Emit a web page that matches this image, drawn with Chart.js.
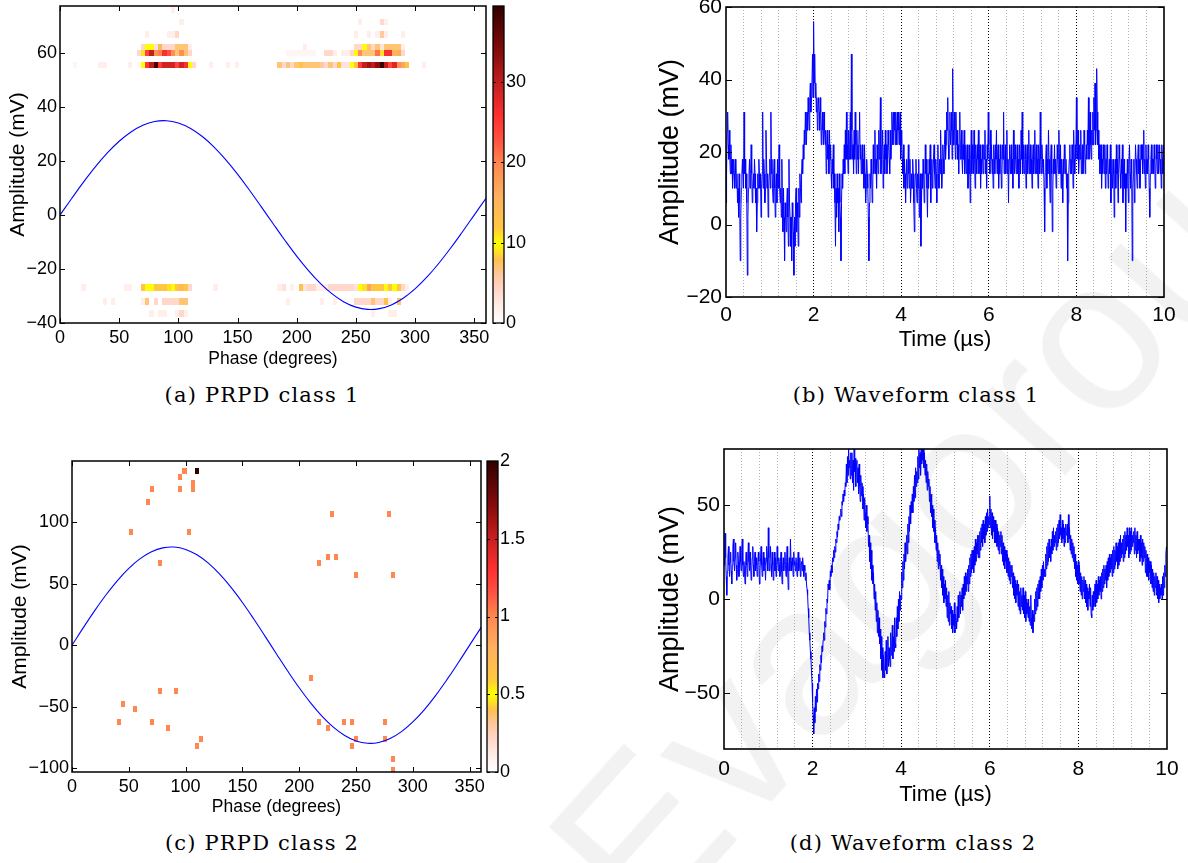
<!DOCTYPE html>
<html>
<head>
<meta charset="utf-8">
<script src="https://cdn.jsdelivr.net/npm/chart.js@4.4.1/dist/chart.umd.min.js"></script>
<style>
  body { margin: 0; background: #fff; }
  #page { position: relative; width: 1188px; height: 863px; overflow: hidden; background: #fff; }
  canvas { position: absolute; }
  .caption { position: absolute; width: 400px; text-align: center; font-family: "DejaVu Serif", serif; font-size: 21px; letter-spacing: 1.2px; line-height: 24px; color: #000; }
  #mark { position: absolute; left: 400px; top: 440px; width: 1000px; text-align: center; font-family: "Liberation Sans", sans-serif; font-size: 215px; line-height: 215px; color: rgba(0, 0, 0, 0.05); transform: rotate(-48deg); pointer-events: none; }
</style>
</head>
<body>
<div id="page">
  <canvas id="prpd1" width="490" height="372" style="left:0;top:0"></canvas>
  <canvas id="cbar1" width="50" height="372" style="left:488px;top:0"></canvas>
  <canvas id="wave1" width="548" height="360" style="left:640px;top:0"></canvas>
  <canvas id="prpd2" width="490" height="370" style="left:0;top:450px"></canvas>
  <canvas id="cbar2" width="50" height="370" style="left:482px;top:450px"></canvas>
  <canvas id="wave2" width="548" height="370" style="left:640px;top:440px"></canvas>
  <div class="caption" style="left:62px;top:383px">(a) PRPD class 1</div>
  <div class="caption" style="left:716px;top:383px">(b) Waveform class 1</div>
  <div class="caption" style="left:62px;top:831px">(c) PRPD class 2</div>
  <div class="caption" style="left:713px;top:831px">(d) Waveform class 2</div>
  <div id="mark">Evagorou</div>
</div>
<script>
// ---- data ----
const phaseBin = 3.6;                       // degrees per PRPD column
const phaseTicks = [0, 50, 100, 150, 200, 250, 300, 350];
const prpd1Ticks = [-40, -20, 0, 20, 40, 60];
const prpd2Ticks = [-100, -50, 0, 50, 100];
const cbar1Ticks = [0, 10, 20, 30];
const cbar2Ticks = [0, 0.5, 1, 1.5, 2];

// reference voltage, sampled every 10 degrees
const sinePhase = [0, 10, 20, 30, 40, 50, 60, 70, 80, 90, 100, 110, 120, 130, 140, 150, 160, 170, 180,
  190, 200, 210, 220, 230, 240, 250, 260, 270, 280, 290, 300, 310, 320, 330, 340, 350, 360];
const sine1Amp = [0, 6.25, 12.30, 17.95, 23.03, 27.36, 30.82, 33.29, 34.68, 34.96, 34.12, 32.19, 29.21, 25.30,
  20.57, 15.19, 9.31, 3.14, -3.14, -9.31, -15.19, -20.57, -25.30, -29.21, -32.19, -34.12, -34.96, -34.68,
  -33.29, -30.82, -27.36, -23.03, -17.95, -12.30, -6.25, 0, 6.25];
const sine2Amp = [0, 14.29, 28.11, 41.03, 52.64, 62.54, 70.45, 76.09, 79.27, 79.91, 77.99, 73.57, 66.77, 57.82,
  47.02, 34.71, 21.28, 7.17, -7.17, -21.28, -34.71, -47.02, -57.82, -66.77, -73.57, -77.99, -79.91, -79.27,
  -76.09, -70.45, -62.54, -52.64, -41.03, -28.11, -14.29, 0, 14.29];

// class 1 PRPD: amplitude rows (mV) and cells [phase column, row, count]
const prpd1Rows = [76.2, 71.6, 67.0, 62.4, 60.0, 55.6, -26.9, -32.0, -36.5];
const prpd1Cells = [
  [26,0,2],
  [28,1,2],[70,1,2],[75,1,4],[76,1,2],
  [20,2,2],[25,2,2],[26,2,2],[27,2,4],[69,2,2],[72,2,2],[74,2,2],[75,2,6],[76,2,2],[80,2,2],
  [19,3,4],[20,3,10],[21,3,10],[22,3,3],[23,3,15],[24,3,4],[25,3,4],[26,3,4],[27,3,7],[28,3,7],[29,3,7],[30,3,2],
  [57,3,2],[69,3,4],[70,3,4],[71,3,10],[72,3,7],[73,3,4],[74,3,7],[75,3,3],[76,3,7],[77,3,7],[78,3,7],[79,3,7],[80,3,2],
  [18,4,4],[19,4,9],[20,4,24],[21,4,30],[22,4,19],[23,4,20],[24,4,26],[25,4,23],[26,4,19],[27,4,7],[28,4,19],[29,4,7],[30,4,4],
  [53,4,1],[54,4,1],[55,4,1],[56,4,1],[57,4,1],[58,4,1],[59,4,1],[62,4,4],[63,4,4],[64,4,2],[66,4,2],[67,4,2],[68,4,4],
  [69,4,10],[70,4,19],[71,4,7],[72,4,7],[73,4,7],[74,4,21],[75,4,9],[76,4,26],[77,4,26],[78,4,15],[79,4,16],[80,4,4],
  [3,5,1],[9,5,2],[10,5,2],[16,5,2],[18,5,1],[19,5,10],[20,5,25],[21,5,30],[22,5,38],[23,5,25],[24,5,29],[25,5,29],
  [26,5,29],[27,5,24],[28,5,29],[29,5,26],[30,5,10],[31,5,4],[35,5,2],[39,5,2],[41,5,2],
  [51,5,7],[52,5,4],[53,5,7],[54,5,4],[55,5,7],[56,5,8],[57,5,7],[58,5,7],[59,5,7],[60,5,7],[61,5,6],[62,5,4],[63,5,7],
  [64,5,4],[65,5,8],[66,5,3],[67,5,3],[68,5,10],[69,5,12],[70,5,25],[71,5,30],[72,5,32],[73,5,30],[74,5,33],[75,5,39],
  [76,5,30],[77,5,24],[78,5,28],[79,5,19],[80,5,17],[81,5,8],[85,5,2],
  [5,6,2],[15,6,2],[16,6,2],[19,6,12],[20,6,10],[21,6,10],[22,6,12],[23,6,12],[24,6,12],[25,6,11],[26,6,10],[27,6,12],
  [28,6,14],[29,6,12],[30,6,4],[36,6,2],
  [51,6,2],[52,6,3],[54,6,2],[56,6,8],[57,6,3],[58,6,4],[59,6,4],[60,6,2],[61,6,2],[62,6,2],[63,6,4],[64,6,4],[65,6,4],
  [66,6,4],[67,6,4],[68,6,4],[69,6,3],[70,6,10],[71,6,9],[72,6,17],[73,6,12],[74,6,12],[75,6,12],[76,6,10],[77,6,12],
  [78,6,10],[79,6,12],[80,6,4],[81,6,2],
  [10,7,2],[12,7,2],[19,7,2],[20,7,7],[22,7,4],[24,7,4],[25,7,4],[26,7,4],[27,7,4],[28,7,7],[29,7,7],
  [53,7,2],[61,7,2],[64,7,2],[69,7,4],[70,7,4],[71,7,4],[72,7,4],[73,7,7],[74,7,4],[75,7,4],[76,7,8],[77,7,2],[79,7,7],
  [21,8,2],[23,8,2],[24,8,2],[27,8,2],[28,8,4],[29,8,2],[73,8,2],[77,8,2],[78,8,2]
];

// class 2 PRPD: [phase column, amplitude (mV), count]
const prpd2Cells = [
  [27,141.7,1],[30,141.7,2],[26,137.1,1],[26,126.8,1],[29,131.7,1],[29,126.8,1],[19,126.8,1],[18,116.8,1],
  [14,92.1,1],[28,92.1,1],[21,66.9,1],[21,-37.1,1],[25,-37.1,1],[12,-47.7,1],[15,-52.3,1],[11,-62.3,1],
  [19,-62.3,1],[23,-67.2,1],[31,-76.7,1],[30,-82.1,1],
  [63,106.8,1],[77,106.8,1],[60,66.9,1],[62,71.8,1],[64,71.8,1],[69,57.2,1],[78,57.2,1],[58,-27.1,1],
  [60,-62.3,1],[62,-67.2,1],[66,-62.3,1],[68,-62.3,1],[69,-76.7,1],[68,-82.1,1],[76,-62.3,1],[76,-76.7,1],
  [78,-92.4,1],[78,-102,1]
];

// waveforms, one sample every 12.5 ns (one line = 0.125 us)
const sampleStep = 0.0125;
const timeGrid = [0, 0.4, 0.8, 1.2, 1.6, 2, 2.4, 2.8, 3.2, 3.6, 4, 4.4, 4.8, 5.2, 5.6, 6, 6.4, 6.8, 7.2, 7.6, 8,
  8.4, 8.8, 9.2, 9.6, 10];
const timeLabels = [0, 2, 4, 6, 8, 10];
const wave1Ticks = [-20, 0, 20, 40, 60];
const wave2Ticks = [-50, 0, 50];
const wave1Amp = [
  6, 14, 26, 31, 22, 18, 26, 18, 14, 22,
  14, 18, 10, 14, 18, 14, 10, 18, 14, 10,
  14, 6, 10, 2, 14, 6, -10, 2, 10, 14,
  18, 14, 10, 31, 14, 18, 10, 14, 6, -14,
  2, 10, 14, 18, 10, 14, 22, 14, 6, 10,
  14, 10, 18, 14, 6, 10, -2, 6, 14, 10,
  18, 14, 10, 14, 2, 10, 14, 31, 10, 18,
  14, 6, 10, 26, 18, 10, 14, 2, 10, 14,
  18, 10, 31, 14, 18, 10, 6, 14, 18, 10,
  2, 10, 14, 6, 18, 10, 14, 22, 10, 6,
  10, 2, 18, 6, -2, 10, 2, -10, 6, 2,
  -2, 6, 10, 2, -6, 18, 6, 2, -6, 2,
  -10, 6, 2, -2, -14, 2, -6, 6, 10, -2,
  6, 2, -6, 10, 2, 14, 10, 6, 14, 18,
  14, 22, 18, 26, 22, 31, 26, 22, 31, 26,
  35, 31, 26, 35, 39, 31, 35, 39, 47, 35,
  56, 39, 47, 35, 39, 31, 35, 26, 31, 35,
  31, 26, 35, 31, 22, 26, 31, 26, 22, 31,
  26, 22, 26, 14, 22, 26, 18, 22, 14, 26,
  18, 22, 14, 10, 18, 14, 22, 10, 14, 6,
  -6, 10, 2, 14, 6, 10, -2, 14, 6, 2,
  -10, 6, 14, 10, 18, 14, 22, 14, 26, 18,
  31, 18, 22, 14, 26, 18, 22, 31, 18, 47,
  26, 18, 22, 14, 26, 18, 31, 22, 14, 26,
  18, 22, 14, 26, 31, 18, 22, 14, 18, 22,
  14, 18, 10, 22, 14, 6, 10, 18, 14, 10,
  2, -10, 6, 14, 10, 18, 14, 6, 10, 22,
  14, 18, 26, 14, 18, 10, 22, 18, 14, 26,
  18, 22, 35, 14, 18, 22, 26, 10, 18, 22,
  14, 26, 18, 22, 14, 18, 26, 22, 18, 14,
  26, 18, 22, 31, 26, 22, 31, 26, 31, 22,
  31, 26, 22, 31, 26, 31, 22, 26, 31, 18,
  26, 22, 18, 14, 22, 10, 18, 14, 6, 14,
  18, 10, 14, 22, 14, 10, 18, 6, 10, 14,
  10, 18, 14, 6, -2, 10, 14, 18, 10, 6,
  14, 10, 18, 2, 10, 14, -6, 6, 14, 10,
  18, 14, 6, 10, 22, 14, 18, 10, 2, 14,
  10, 18, 14, 22, 6, 14, 18, 10, 14, 18,
  22, 14, 10, 18, 14, 6, 18, 22, 14, 10,
  18, 14, 26, 18, 10, 14, 22, 18, 14, 22,
  26, 18, 22, 31, 26, 35, 22, 18, 26, 31,
  22, 26, 31, 18, 43, 26, 22, 31, 26, 18,
  31, 22, 26, 18, 22, 14, 26, 31, 18, 22,
  26, 18, 14, 22, 18, 26, 14, 18, 22, 14,
  18, 22, 10, 18, 14, 22, 6, 18, 26, 14,
  22, 18, 14, 26, 18, 10, 22, 18, 14, 22,
  18, 26, 14, 18, 22, 10, 18, 14, 22, 18,
  14, 22, 18, 26, 14, 18, 10, 22, 18, 31,
  22, 18, 14, 26, 18, 22, 14, 18, 10, 22,
  18, 14, 22, 18, 26, 14, 18, 22, 10, 18,
  14, 22, 18, 10, 14, 22, 18, 31, 14, 18,
  22, 14, 18, 26, 14, 18, 6, 18, 22, 14,
  18, 22, 14, 18, 10, 26, 18, 14, 22, 18,
  14, 18, 22, 14, 18, 10, 22, 18, 14, 26,
  18, 31, 14, 22, 18, 14, 18, 22, 10, 18,
  22, 14, 18, 26, 14, 18, 22, 14, 18, 10,
  18, 22, 14, 18, 26, 14, 18, 22, 14, 18,
  10, 22, 18, 14, 31, 18, 14, 22, 18, 14,
  18, 10, -2, 14, 18, 22, 10, 18, 14, 26,
  18, 14, 6, 18, 22, 14, -2, 10, 18, 14,
  22, 14, 18, 10, 14, 22, 18, 14, 26, 18,
  14, 22, 10, 18, 14, 6, 18, 14, 22, 18,
  14, 18, 10, 14, -10, 6, 14, 18, 22, 14,
  18, 14, 22, 18, 10, 26, 18, 14, 22, 18,
  35, 22, 18, 26, 14, 18, 22, 18, 26, 14,
  18, 22, 14, 18, 26, 22, 14, 18, 22, 18,
  26, 22, 35, 18, 26, 31, 22, 18, 26, 22,
  31, 22, 35, 26, 39, 22, 26, 43, 31, 22,
  26, 18, 22, 14, 18, 22, 10, 18, 14, 22,
  18, 14, 22, 10, 18, 14, 22, 18, 10, 14,
  18, 14, 22, 6, 14, 18, 10, 14, 18, 2,
  14, 18, 10, 22, 14, 18, 6, 14, 22, 18,
  14, 10, 18, 14, 22, 6, 14, 18, 10, 14,
  -2, 14, 10, 18, 14, 6, 18, 22, 14, 10,
  18, 14, -10, 10, 14, 18, 6, 14, 22, 18,
  14, 10, 18, 22, 14, 18, 10, 14, 22, 18,
  22, 14, 18, 26, 14, 18, 10, 22, 14, 18,
  14, 22, 18, 10, 2, 14, 18, 22, 14, 18,
  18, 14, 22, 18, 10, 14, 22, 18, 14, 22,
  14, 18, 22, 14, 18, 10, 22, 18, 14, 22
];
const wave2Amp = [
  18, 25, 35, 22, 12, 2, 15, 22, 28, 18,
  12, 20, 25, 15, 8, 18, 28, 32, 20, 15,
  22, 30, 18, 10, 15, 25, 20, 12, 18, 28,
  20, 15, 25, 32, 18, 12, 20, 15, 8, 18,
  25, 18, 12, 22, 30, 20, 15, 25, 18, 10,
  15, 22, 28, 18, 12, 20, 25, 15, 22, 18,
  12, 18, 25, 20, 8, 15, 22, 28, 18, 12,
  20, 25, 15, 22, 18, 10, 20, 28, 22, 15,
  38, 22, 15, 20, 28, 18, 12, 25, 18, 10,
  18, 25, 15, 22, 12, 18, 28, 20, 15, 22,
  18, 12, 20, 25, 15, 8, 18, 22, 15, 20,
  25, 18, 12, 20, 28, 15, 5, 18, 22, 15,
  32, 20, 15, 22, 18, 12, 25, 18, 20, 15,
  22, 18, 12, 20, 25, 15, 18, 22, 12, 18,
  20, 15, 22, 18, 12, 18, 15, 10, 14, 8,
  5, 2, -5, -10, -18, -22, -28, -32, -38, -45,
  -55, -62, -72, -58, -66, -52, -60, -48, -55, -45,
  -48, -40, -44, -35, -38, -30, -34, -25, -28, -22,
  -18, -22, -12, -15, -5, -8, 0, -2, 8, 5,
  10, 5, 15, 12, 18, 14, 22, 20, 26, 22,
  28, 25, 32, 30, 36, 33, 40, 37, 44, 42,
  45, 48, 44, 52, 50, 56, 52, 58, 55, 62,
  60, 72, 62, 76, 66, 80, 70, 74, 64, 78,
  66, 78, 62, 74, 58, 80, 68, 75, 60, 72,
  74, 62, 70, 56, 72, 60, 52, 66, 55, 62,
  60, 48, 56, 42, 54, 46, 38, 50, 36, 44,
  40, 28, 34, 20, 30, 16, 26, 10, 18, 8,
  14, 0, 8, -6, 4, -12, -2, -18, -6, -20,
  -10, -24, -16, -32, -20, -38, -26, -42, -30, -40,
  -42, -28, -38, -22, -40, -30, -20, -36, -26, -32,
  -36, -18, -30, -24, -14, -32, -20, -28, -10, -24,
  -26, -10, -20, -4, -16, 0, -12, 4, -6, 2,
  0, 14, 6, 20, 10, 24, 16, 30, 20, 26,
  34, 24, 40, 30, 44, 36, 50, 40, 52, 46,
  56, 46, 60, 52, 66, 54, 70, 60, 68, 62,
  76, 64, 80, 70, 78, 66, 80, 72, 80, 74,
  80, 70, 78, 66, 74, 62, 72, 58, 68, 60,
  64, 52, 60, 46, 56, 44, 50, 38, 48, 36,
  42, 30, 38, 26, 34, 20, 30, 16, 26, 18,
  24, 10, 18, 6, 16, 2, 12, -2, 8, 0,
  10, -4, 6, -10, 2, -12, 4, -14, -2, -8,
  -4, -16, -6, -18, -8, -14, -2, -18, -8, -12,
  -16, -4, -12, 2, -10, -2, 4, -8, 2, -4,
  6, -6, 8, 0, 12, 2, 14, 4, 12, 8,
  16, 4, 18, 8, 22, 12, 24, 14, 26, 16,
  26, 14, 28, 18, 32, 20, 30, 24, 34, 22,
  34, 22, 36, 26, 38, 30, 40, 28, 42, 32,
  40, 30, 44, 34, 46, 36, 48, 38, 44, 40,
  55, 38, 48, 34, 46, 32, 44, 36, 42, 30,
  42, 30, 40, 28, 38, 26, 36, 24, 34, 28,
  36, 24, 34, 20, 30, 18, 28, 16, 26, 20,
  26, 14, 24, 12, 22, 10, 20, 8, 18, 12,
  18, 6, 14, 2, 12, 0, 10, -2, 8, 2,
  10, -4, 8, -6, 4, -8, 6, -4, 2, -6,
  6, -8, 2, -10, 4, -12, 0, -8, -2, -10,
  0, -12, -4, -14, 2, -10, -16, -6, -18, -8,
  -12, 0, -8, 4, -6, 6, -4, 8, 0, 10,
  0, 12, 4, 16, 6, 18, 10, 20, 12, 16,
  12, 24, 16, 28, 18, 30, 20, 32, 22, 28,
  20, 32, 24, 36, 26, 38, 28, 34, 30, 36,
  26, 38, 28, 40, 30, 42, 32, 45, 34, 38,
  30, 42, 32, 40, 28, 38, 30, 40, 34, 36,
  40, 30, 45, 32, 38, 26, 34, 24, 32, 22,
  30, 20, 28, 16, 24, 12, 20, 10, 18, 8,
  20, 8, 18, 4, 14, 2, 12, 0, 10, 4,
  12, 0, 10, -2, 8, -4, 6, -6, 4, 0,
  8, -4, 6, -8, -10, 2, -6, 4, -4, 2,
  8, -4, 10, -2, 8, 0, 12, 2, 10, 4,
  12, 0, 14, 4, 16, 6, 18, 8, 16, 10,
  18, 6, 20, 10, 22, 12, 24, 14, 22, 16,
  24, 12, 26, 14, 28, 16, 26, 18, 30, 20,
  28, 16, 30, 18, 32, 20, 34, 22, 30, 24,
  32, 20, 34, 22, 36, 24, 34, 26, 38, 28,
  34, 22, 38, 24, 36, 26, 38, 28, 34, 30,
  36, 24, 38, 26, 34, 22, 36, 24, 32, 26,
  32, 20, 34, 22, 30, 18, 32, 20, 30, 22,
  28, 14, 26, 12, 24, 12, 22, 10, 20, 14,
  20, 8, 18, 6, 16, 4, 14, 2, 12, 6,
  14, 2, 12, 0, 10, -2, 8, 0, 6, 2,
  8, 0, 12, 2, 14, 6, 18, 12, 24, 28
];

// ---- styling ----
const SANS = '"Liberation Sans", Arial, sans-serif';
const BLUE = '#0000ff';
Chart.defaults.color = '#000';
Chart.defaults.font.family = SANS;

// tick text with a proper minus sign
const tickText = v => String(v).replace('-', '\u2212');

// white -> pink -> orange -> yellow -> orange -> red -> black
const cmapStops = [
  [0.00, [255, 255, 255]],
  [0.05, [255, 238, 234]],
  [0.10, [255, 216, 204]],
  [0.15, [255, 200, 160]],
  [0.20, [255, 192, 80]],
  [0.25, [255, 255, 0]],
  [0.30, [255, 200, 64]],
  [0.40, [255, 176, 96]],
  [0.50, [255, 136, 80]],
  [0.58, [255, 80, 64]],
  [0.65, [255, 48, 48]],
  [0.75, [200, 32, 32]],
  [0.85, [138, 12, 12]],
  [1.00, [48, 0, 0]]
];

function colormap(t) {
  t = Math.max(0, Math.min(1, t));
  for (let i = 1; i < cmapStops.length; i++) {
    const [t1, c1] = cmapStops[i];
    if (t <= t1) {
      const [t0, c0] = cmapStops[i - 1];
      const f = (t - t0) / (t1 - t0);
      return 'rgb(' + c0.map((v, j) => Math.round(v + (c1[j] - v) * f)).join(',') + ')';
    }
  }
  return 'rgb(48,0,0)';
}

// box around the plot plus inward tick marks on every side
const framePlugin = {
  id: 'frame',
  afterDraw(chart, args, opts) {
    const { ctx, chartArea: a, scales } = chart;
    const len = opts.tickLength || 5;
    ctx.save();
    ctx.strokeStyle = '#000';
    ctx.lineWidth = 1;
    ctx.beginPath();
    if (opts.xTicks) {
      for (const t of scales.x.ticks) {
        const px = Math.round(scales.x.getPixelForValue(t.value)) + 0.5;
        ctx.moveTo(px, a.bottom); ctx.lineTo(px, a.bottom - len);
        ctx.moveTo(px, a.top); ctx.lineTo(px, a.top + len);
      }
    }
    if (opts.yTicks) {
      for (const t of scales.y.ticks) {
        const py = Math.round(scales.y.getPixelForValue(t.value)) + 0.5;
        ctx.moveTo(a.left, py); ctx.lineTo(a.left + len, py);
        ctx.moveTo(a.right, py); ctx.lineTo(a.right - len, py);
      }
    }
    ctx.stroke();
    ctx.lineWidth = opts.lineWidth || 1.5;
    ctx.strokeRect(a.left, a.top, a.right - a.left, a.bottom - a.top);
    ctx.restore();
  }
};

// PRPD cells painted under the reference sine
function heatmapPlugin(cells, ampOf, cellHeight, cmax) {
  return {
    id: 'heatmap',
    beforeDatasetsDraw(chart) {
      const { ctx, chartArea: a, scales: { x, y } } = chart;
      ctx.save();
      ctx.beginPath();
      ctx.rect(a.left, a.top, a.right - a.left, a.bottom - a.top);
      ctx.clip();
      for (const [col, key, count] of cells) {
        const amp = ampOf(key);
        const x0 = Math.round(x.getPixelForValue(col * phaseBin));
        const x1 = Math.round(x.getPixelForValue((col + 1) * phaseBin));
        const y0 = Math.round(y.getPixelForValue(amp + cellHeight / 2));
        const y1 = Math.round(y.getPixelForValue(amp - cellHeight / 2));
        ctx.fillStyle = colormap(count / cmax);
        ctx.fillRect(x0, y0, x1 - x0, y1 - y0);
      }
      ctx.restore();
    }
  };
}

function setTicks(values) {
  return axis => { axis.ticks = values.map(v => ({ value: v })); };
}

// fixed axis sizes, no extra room for labels hanging past the plot edges
function fixWidth(w) {
  return s => { s.width = w; s.paddingTop = 0; s.paddingBottom = 0; };
}
function fixHeight(h) {
  return s => { s.height = h; s.paddingLeft = 0; s.paddingRight = 0; };
}

function prpdChart(id, o) {
  return new Chart(document.getElementById(id), {
    type: 'line',
    data: {
      datasets: [{
        data: sinePhase.map((p, i) => ({ x: p, y: o.sine[i] })),
        borderColor: BLUE,
        borderWidth: 1.1,
        pointRadius: 0,
        tension: 0.4
      }]
    },
    options: {
      responsive: false,
      animation: false,
      layout: { padding: { top: o.top, right: o.right, left: 0, bottom: 0 } },
      plugins: {
        legend: { display: false },
        tooltip: { enabled: false },
        frame: { xTicks: true, yTicks: true, tickLength: 5, lineWidth: 1.5 }
      },
      scales: {
        x: {
          type: 'linear', min: 0, max: 360,
          afterBuildTicks: setTicks(phaseTicks),
          afterFit: fixHeight(o.xHeight),
          grid: { display: false, drawTicks: false },
          border: { display: false },
          ticks: { autoSkip: false, maxRotation: 0, padding: 4, font: { size: 18 }, callback: tickText },
          title: { display: true, text: 'Phase (degrees)', font: { size: 17.5 }, padding: { top: 0, bottom: 2 } }
        },
        y: {
          min: o.ymin, max: o.ymax,
          afterBuildTicks: setTicks(o.yTicks),
          afterFit: fixWidth(o.yWidth),
          grid: { display: false, drawTicks: false },
          border: { display: false },
          ticks: { padding: 3, font: { size: 18 }, callback: tickText },
          title: { display: true, text: 'Amplitude (mV)', font: { size: 21 }, padding: { top: o.titlePad, bottom: 0 } }
        }
      }
    },
    plugins: [o.heatmap, framePlugin]
  });
}

function colorbarChart(id, cmax, ticks, top, bottom) {
  return new Chart(document.getElementById(id), {
    type: 'bar',
    data: {
      labels: [''],
      datasets: [{
        data: [[0, cmax]],
        barPercentage: 1,
        categoryPercentage: 1,
        borderWidth: 0,
        backgroundColor: c => {
          const area = c.chart.chartArea;
          if (!area) return '#fff';
          const g = c.chart.ctx.createLinearGradient(0, area.bottom, 0, area.top);
          cmapStops.forEach(([t, rgb]) => g.addColorStop(t, 'rgb(' + rgb.join(',') + ')'));
          return g;
        }
      }]
    },
    options: {
      responsive: false,
      animation: false,
      layout: { padding: { left: 5, top, bottom, right: 0 } },
      plugins: {
        legend: { display: false },
        tooltip: { enabled: false },
        frame: { yTicks: true, tickLength: 3, lineWidth: 1.3 }
      },
      scales: {
        x: { display: false },
        y: {
          position: 'right', min: 0, max: cmax,
          afterBuildTicks: setTicks(ticks),
          afterFit: fixWidth(34),
          grid: { display: false, drawTicks: false },
          border: { display: false },
          ticks: { padding: 2, font: { size: 18 }, callback: tickText }
        }
      }
    },
    plugins: [framePlugin]
  });
}

function waveChart(id, o) {
  return new Chart(document.getElementById(id), {
    type: 'line',
    data: {
      datasets: [{
        data: o.amp.map((v, i) => ({ x: i * sampleStep, y: v })),
        borderColor: BLUE,
        borderWidth: 1,
        pointRadius: 0,
        tension: 0
      }]
    },
    options: {
      responsive: false,
      animation: false,
      layout: { padding: { top: o.top, right: o.right, left: 0, bottom: 0 } },
      plugins: {
        legend: { display: false },
        tooltip: { enabled: false },
        frame: { yTicks: true, tickLength: 6, lineWidth: 1.6 }
      },
      scales: {
        x: {
          type: 'linear', min: 0, max: 10,
          afterBuildTicks: setTicks(timeGrid),
          afterFit: fixHeight(o.xHeight),
          grid: {
            drawTicks: false,
            lineWidth: 1,
            color: c => {
              const v = c.tick ? c.tick.value : 0;
              if (v === 0 || v === 10) return 'rgba(0,0,0,0)';
              return timeLabels.includes(v) ? '#000' : '#b4b4b4';
            }
          },
          border: { display: false, dash: [1, 2] },
          ticks: {
            autoSkip: false, maxRotation: 0, padding: o.tickPad,
            font: { size: 21 },
            callback: v => (timeLabels.includes(v) ? tickText(v) : '')
          },
          title: { display: true, text: 'Time (µs)', font: { size: 22 }, padding: { top: 0, bottom: o.titleBottom } }
        },
        y: {
          min: o.ymin, max: o.ymax,
          afterBuildTicks: setTicks(o.yTicks),
          afterFit: fixWidth(o.yWidth),
          grid: { display: false, drawTicks: false },
          border: { display: false },
          ticks: { padding: 4, font: { size: 21 }, callback: tickText },
          title: { display: true, text: 'Amplitude (mV)', font: { size: 27 }, padding: { top: 14, bottom: 0 } }
        }
      }
    },
    plugins: [framePlugin]
  });
}

// (a) PRPD class 1
prpdChart('prpd1', {
  sine: sine1Amp, ymin: -40, ymax: 77.5, yTicks: prpd1Ticks,
  top: 6, right: 4, xHeight: 49, yWidth: 60, titlePad: 6,
  heatmap: heatmapPlugin(prpd1Cells, r => prpd1Rows[r], 2.4, 39.5)
});
colorbarChart('cbar1', 39.5, cbar1Ticks, 6, 49);

// (c) PRPD class 2
prpdChart('prpd2', {
  sine: sine2Amp, ymin: -103.3, ymax: 150, yTicks: prpd2Ticks,
  top: 11, right: 9, xHeight: 48, yWidth: 72, titlePad: 8,
  heatmap: heatmapPlugin(prpd2Cells, amp => amp, 4.9, 2)
});
colorbarChart('cbar2', 2, cbar2Ticks, 11, 48);

// (b) waveform class 1
waveChart('wave1', {
  amp: wave1Amp, ymin: -20, ymax: 60, yTicks: wave1Ticks,
  top: 7, right: 24, xHeight: 63, yWidth: 86, tickPad: 6, titleBottom: 7
});

// (d) waveform class 2
waveChart('wave2', {
  amp: wave2Amp, ymin: -80, ymax: 80, yTicks: wave2Ticks,
  top: 9, right: 21, xHeight: 61, yWidth: 84, tickPad: 8, titleBottom: 2
});
</script>
</body>
</html>
